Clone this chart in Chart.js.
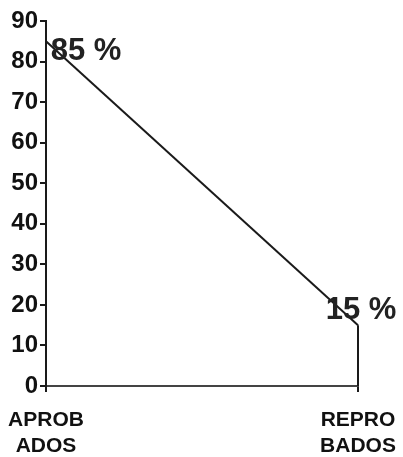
<!DOCTYPE html>
<html>
<head>
<meta charset="utf-8">
<script src="https://cdn.jsdelivr.net/npm/chart.js"></script>
<style>
  html, body { margin: 0; padding: 0; background: #fff; }
  #wrap { width: 403px; height: 457px; position: relative; }
</style>
</head>
<body>
<div id="wrap"><canvas id="chart" width="403" height="457"></canvas></div>
<script>
// datos
const categories = ["APROB ADOS", "REPRO BADOS"];
const values = [85, 15];
const pointLabels = ["85 %", "15 %"];
const yTicks = [0, 10, 20, 30, 40, 50, 60, 70, 80, 90];

// borde derecho del area (de 0 hasta el ultimo valor)
const lastCat = categories[categories.length - 1];
const rightEdge = [{ x: lastCat, y: 0 }, { x: lastCat, y: values[values.length - 1] }];

// etiquetas de porcentaje junto a cada punto
const labelOffsets = [{ dx: 40, dy: 10 }, { dx: 3, dy: -15 }];
const pctLabels = {
  id: "pctLabels",
  afterDatasetsDraw(chart) {
    const meta = chart.getDatasetMeta(0);
    const ctx = chart.ctx;
    ctx.save();
    ctx.font = "bold 31px 'Liberation Sans', Arial, sans-serif";
    ctx.fillStyle = "#222";
    ctx.textAlign = "center";
    ctx.textBaseline = "middle";
    meta.data.forEach((pt, i) => {
      const o = labelOffsets[i];
      ctx.fillText(pointLabels[i], pt.x + o.dx, pt.y + o.dy);
    });
    ctx.restore();
  }
};

const family = "'Liberation Sans', Arial, sans-serif";

new Chart(document.getElementById("chart"), {
  type: "line",
  data: {
    labels: categories,
    datasets: [
      {
        data: values,
        borderColor: "#1a1a1a",
        borderWidth: 2,
        pointRadius: 0,
        fill: false,
        tension: 0
      },
      {
        data: rightEdge,
        borderColor: "#1a1a1a",
        borderWidth: 2,
        pointRadius: 0,
        fill: false
      }
    ]
  },
  options: {
    responsive: false,
    animation: false,
    events: [],
    layout: { padding: { top: 21, right: 45, left: 0, bottom: 0 } },
    plugins: { legend: { display: false }, tooltip: { enabled: false } },
    scales: {
      x: {
        offset: false,
        grid: { drawOnChartArea: false, tickLength: 6, color: "#1a1a1a", lineWidth: 2 },
        border: { color: "#444", width: 2 },
        ticks: {
          color: "#111",
          font: { family, size: 21, weight: "bold" },
          padding: 16,
          maxRotation: 0,
          autoSkip: false,
          callback(v, i) { return categories[i].split(" "); }
        },
        afterFit(scale) {
          scale.height = 71;
          scale.paddingLeft = 0;
          scale.paddingRight = 0;
        }
      },
      y: {
        min: 0,
        max: 90,
        afterBuildTicks(scale) { scale.ticks = yTicks.map(v => ({ value: v })); },
        grid: { drawOnChartArea: false, tickLength: 6, color: "#1a1a1a", lineWidth: 2 },
        border: { color: "#1a1a1a", width: 2 },
        ticks: { color: "#111", font: { family, size: 24, weight: "bold" }, padding: 2 },
        afterFit(scale) {
          scale.width = 46;
          scale.paddingTop = 0;
          scale.paddingBottom = 0;
        }
      }
    }
  },
  plugins: [pctLabels]
});
</script>
</body>
</html>
